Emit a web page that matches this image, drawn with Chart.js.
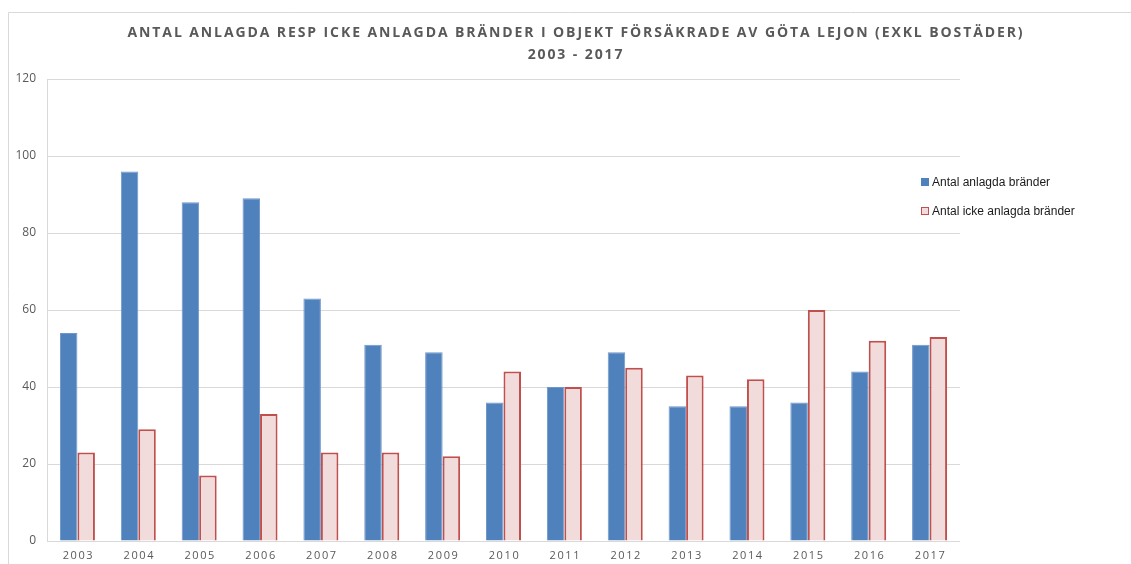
<!DOCTYPE html>
<html>
<head>
<meta charset="utf-8">
<script src="https://cdn.jsdelivr.net/npm/chart.js@4"></script>
<style>
  html, body { margin: 0; padding: 0; background: #fff; }
  #wrap { position: relative; width: 1131px; height: 564px; }
  #legend { position: absolute; left: 921px; top: 172px; font-family: "Liberation Sans", Arial, sans-serif; font-size: 12px; color: #1a1a1a; }
  #legend .item { display: flex; align-items: center; height: 20px; margin-bottom: 9px; white-space: nowrap; }
  #legend .box { width: 8px; height: 8px; margin-right: 3px; box-sizing: border-box; }
</style>
</head>
<body>
<div id="wrap">
  <canvas id="c" width="1131" height="564"></canvas>
  <div id="legend"></div>
</div>
<script>
const titleLines = ["ANTAL ANLAGDA RESP ICKE ANLAGDA BRÄNDER I OBJEKT FÖRSÄKRADE AV GÖTA LEJON (EXKL BOSTÄDER)", "2003 - 2017"];
const years = ["2003","2004","2005","2006","2007","2008","2009","2010","2011","2012","2013","2014","2015","2016","2017"];
const seriesNames = ["Antal anlagda bränder", "Antal icke anlagda bränder"];
const anlagda = [54, 96, 88, 89, 63, 51, 49, 36, 40, 49, 35, 35, 36, 44, 51];
const ickeAnlagda = [23, 29, 17, 33, 23, 23, 22, 44, 40, 45, 43, 42, 60, 52, 53];
const yTicks = [0, 20, 40, 60, 80, 100, 120];

const BLUE = "#4f81bd", PINK = "#f2dcdb", RED = "#c0504d", GRID = "#d9d9d9", TXT = "#595959";

const decor = {
  id: "decor",
  beforeDraw(chart) {
    const ctx = chart.ctx;
    ctx.save();
    ctx.strokeStyle = GRID;
    ctx.lineWidth = 1;
    ctx.beginPath();
    ctx.moveTo(8.5, 564);
    ctx.lineTo(8.5, 12.5);
    ctx.lineTo(1131, 12.5);
    ctx.stroke();
    ctx.restore();
  },
  afterDraw(chart) {
    const ctx = chart.ctx;
    ctx.save();
    // title
    ctx.fillStyle = TXT;
    ctx.textAlign = "center";
    ctx.textBaseline = "middle";
    ctx.font = 'bold 14px "Open Sans"';
    ctx.letterSpacing = "1.9px";
    ctx.fillText(titleLines[0], 576, 33);
    ctx.fillText(titleLines[1], 576, 55);
    // x tick labels
    const xs = chart.scales.x;
    ctx.font = '11px "Open Sans"';
    ctx.letterSpacing = "1.6px";
    years.forEach((y, i) => {
      ctx.fillText(y, xs.getPixelForTick(i) + 1, 556);
    });
    ctx.restore();
  }
};

const chart = new Chart(document.getElementById("c"), {
  type: "bar",
  data: {
    labels: years,
    datasets: [
      { label: seriesNames[0], data: anlagda, backgroundColor: BLUE, borderColor: "#6f97c9", borderWidth: 1 },
      { label: seriesNames[1], data: ickeAnlagda, backgroundColor: PINK, borderColor: RED, borderWidth: 2 }
    ]
  },
  options: {
    responsive: false,
    animation: false,
    devicePixelRatio: 1,
    layout: { padding: { top: 79, right: 171, left: 0, bottom: 0 } },
    datasets: { bar: { categoryPercentage: 0.575, barPercentage: 1.0 } },
    plugins: {
      legend: { display: false },
      title: { display: false },
      tooltip: { enabled: false }
    },
    scales: {
      x: {
        grid: { display: false },
        border: { display: false },
        ticks: { display: false },
        afterFit(s) { s.height = 23; }
      },
      y: {
        min: 0, max: 120,
        afterBuildTicks(s) { s.ticks = yTicks.map(v => ({ value: v })); },
        grid: { color: GRID, lineWidth: 1, drawTicks: false },
        border: { display: true, color: GRID },
        ticks: { color: TXT, font: { family: "Open Sans", size: 12 }, padding: 11 },
        afterFit(s) { s.width = 47; }
      }
    }
  },
  plugins: [decor]
});

// HTML legend built from dataset definitions
const leg = document.getElementById("legend");
chart.data.datasets.forEach(ds => {
  const it = document.createElement("div");
  it.className = "item";
  const b = document.createElement("span");
  b.className = "box";
  b.style.background = ds.backgroundColor;
  b.style.border = ds.borderColor === RED ? "1.5px solid " + RED : "none";
  const t = document.createElement("span");
  t.textContent = ds.label;
  it.appendChild(b); it.appendChild(t);
  leg.appendChild(it);
});
</script>
</body>
</html>
